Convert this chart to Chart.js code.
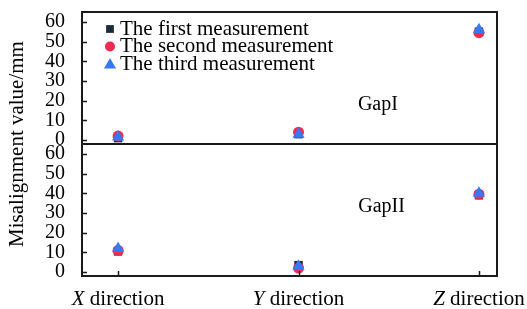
<!DOCTYPE html>
<html>
<head>
<meta charset="utf-8">
<script src="https://cdn.jsdelivr.net/npm/chart.js@4/dist/chart.umd.min.js"></script>
<style>
    body { margin: 0; background: #fff; }
</style>
</head>
<body>
<canvas id="ChartMisalignment" width="527" height="309"></canvas>
<script>
var directions = ['X direction', 'Y direction', 'Z direction'];
var yTicks = [0, 10, 20, 30, 40, 50, 60];
var seriesNames = ['The first measurement', 'The second measurement', 'The third measurement'];
var panelNames = ['GapI', 'GapII'];

// Gap I (upper panel)
var gap1First = [1, 3, 55];
var gap1Second = [2, 4, 54.5];
var gap1Third = [1.5, 3, 56];

// Gap II (lower panel)
var gap2First = [10.5, 3.5, 39];
var gap2Second = [11, 2, 39.5];
var gap2Third = [12, 3, 40];

var FONT = '"Liberation Serif", "Times New Roman", serif';
var INK = '#1a1a1a';

function ToPoints(values) {
    return values.map(function (v, i) { return { x: i, y: v }; });
}

function MakeDataset(label, values, axis, style) {
    return {
        label: label,
        data: ToPoints(values),
        yAxisID: axis,
        pointStyle: style.shape,
        pointRadius: style.radius,
        pointHoverRadius: style.radius,
        pointBorderWidth: 0,
        backgroundColor: style.color,
        borderColor: style.color,
        showLine: false,
        order: style.order
    };
}

var styles = [
    { shape: 'rect', radius: 6, color: '#1b2a35', order: 3, legendRadius: 5.5 },
    { shape: 'circle', radius: 5.5, color: '#ef2b52', order: 2, legendRadius: 5 },
    { shape: 'triangle', radius: 7, color: '#3579f4', order: 1, legendRadius: 7 }
];

var datasets = [
    MakeDataset(seriesNames[0], gap1First, 'yTop', styles[0]),
    MakeDataset(seriesNames[1], gap1Second, 'yTop', styles[1]),
    MakeDataset(seriesNames[2], gap1Third, 'yTop', styles[2]),
    MakeDataset(seriesNames[0], gap2First, 'yBot', styles[0]),
    MakeDataset(seriesNames[1], gap2Second, 'yBot', styles[1]),
    MakeDataset(seriesNames[2], gap2Third, 'yBot', styles[2])
];

function YScale() {
    return {
        type: 'linear',
        position: 'left',
        stack: 'gaps',
        stackWeight: 1,
        min: -2,
        max: 65,
        afterBuildTicks: function (scale) {
            scale.ticks = yTicks.map(function (v) { return { value: v }; });
        },
        afterFit: function (scale) {
            scale.width = 82;
            scale.paddingTop = 0;
            scale.paddingBottom = 0;
        },
        grid: { display: false, drawTicks: false },
        border: { display: true, color: INK, width: 2 },
        ticks: {
            autoSkip: false,
            padding: 17,
            color: '#000',
            font: { family: FONT, size: 20 }
        }
    };
}

// frame, inward ticks, axis labels, panel names and legend
var decorations = {
    id: 'decorations',
    afterDraw: function (chart) {
        var ctx = chart.ctx;
        var area = chart.chartArea;
        var xs = chart.scales.x;
        var top = chart.scales.yTop;
        var bot = chart.scales.yBot;

        ctx.save();
        ctx.strokeStyle = INK;
        ctx.lineWidth = 2;
        ctx.beginPath();
        ctx.moveTo(area.left - 1, area.top);
        ctx.lineTo(area.right, area.top);
        ctx.lineTo(area.right, area.bottom + 1);
        ctx.moveTo(area.left - 1, top.bottom);
        ctx.lineTo(area.right, top.bottom);
        ctx.stroke();

        ctx.lineWidth = 1.5;
        ctx.beginPath();
        [top, bot].forEach(function (s) {
            s.ticks.forEach(function (t) {
                var py = Math.round(s.getPixelForValue(t.value)) + 0.5;
                ctx.moveTo(area.left, py);
                ctx.lineTo(area.left + 5, py);
            });
        });
        directions.forEach(function (d, i) {
            var px = Math.round(xs.getPixelForValue(i)) + 0.5;
            ctx.moveTo(px, area.bottom);
            ctx.lineTo(px, area.bottom - 5);
        });
        ctx.stroke();

        ctx.fillStyle = '#000';
        ctx.textBaseline = 'middle';

        // category labels, first letter italic
        directions.forEach(function (d, i) {
            var head = d.charAt(0), tail = d.slice(1);
            ctx.font = 'italic 21px ' + FONT;
            var wHead = ctx.measureText(head).width;
            ctx.font = '21px ' + FONT;
            var wTail = ctx.measureText(tail).width;
            var x0 = xs.getPixelForValue(i) - (wHead + wTail) / 2;
            ctx.textAlign = 'left';
            ctx.font = 'italic 21px ' + FONT;
            ctx.fillText(head, x0, 299);
            ctx.font = '21px ' + FONT;
            ctx.fillText(tail, x0 + wHead, 299);
        });

        // y title
        ctx.save();
        ctx.translate(17, (area.top + area.bottom) / 2);
        ctx.rotate(-Math.PI / 2);
        ctx.textAlign = 'center';
        ctx.font = '21px ' + FONT;
        ctx.fillText('Misalignment value/mm', 0, 0);
        ctx.restore();

        // panel names
        ctx.textAlign = 'center';
        ctx.font = '20px ' + FONT;
        ctx.fillText(panelNames[0], xs.getPixelForValue(1.44), top.getPixelForValue(18));
        ctx.fillText(panelNames[1], xs.getPixelForValue(1.46), bot.getPixelForValue(33));

        // legend
        ctx.textAlign = 'left';
        ctx.font = '21px ' + FONT;
        chart.data.datasets.slice(0, 3).forEach(function (ds, i) {
            var cy = area.top + 17 + i * 17.5;
            ctx.fillStyle = ds.backgroundColor;
            Chart.helpers.drawPoint(ctx, {
                pointStyle: ds.pointStyle,
                radius: styles[i].legendRadius,
                rotation: 0,
                borderWidth: 0
            }, 110, cy + (ds.pointStyle === 'triangle' ? 1 : 0));
            ctx.fillStyle = '#000';
            ctx.fillText(ds.label, 120, cy);
        });
        ctx.restore();
    }
};

var ctx = document.getElementById('ChartMisalignment').getContext('2d');

var graph = new Chart(ctx, {
    type: 'scatter',
    data: { datasets: datasets },
    options: {
        responsive: false,
        animation: false,
        devicePixelRatio: 1,
        layout: { padding: { left: 0, right: 30, top: 12, bottom: 33 } },
        plugins: {
            legend: { display: false },
            tooltip: { enabled: false }
        },
        scales: {
            x: {
                type: 'linear',
                position: 'bottom',
                min: -0.2,
                max: 2.1,
                afterBuildTicks: function (scale) {
                    scale.ticks = directions.map(function (d, i) { return { value: i }; });
                },
                afterFit: function (scale) { scale.height = 0; },
                grid: { display: false, drawTicks: false },
                border: { display: true, color: INK, width: 2 },
                ticks: { display: false }
            },
            // the last stacked axis is placed on top
            yBot: YScale(),
            yTop: YScale()
        }
    },
    plugins: [decorations]
});
</script>
</body>
</html>
